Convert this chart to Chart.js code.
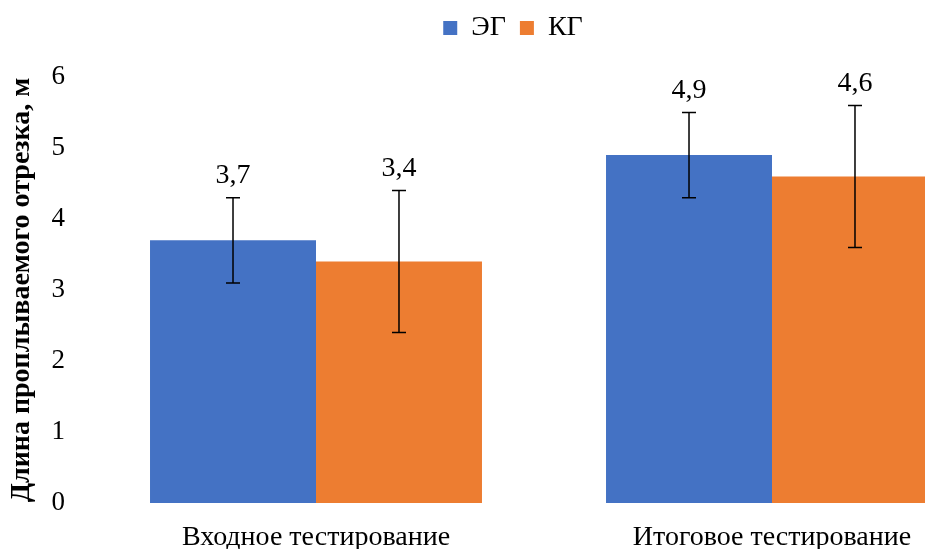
<!DOCTYPE html>
<html>
<head>
<meta charset="utf-8">
<script src="https://cdn.jsdelivr.net/npm/chart.js@4/dist/chart.umd.min.js"></script>
<style>
  html, body { margin: 0; padding: 0; background: #fff; overflow: hidden; width: 925px; height: 549px; }
  #wrap { width: 1026px; height: 549px; }
</style>
</head>
<body>
<div id="wrap"><canvas id="c" width="1026" height="549"></canvas></div>
<script>
const categories = ['Входное тестирование', 'Итоговое тестирование'];
const seriesNames = ['ЭГ', 'КГ'];
const egValues = [3.7, 4.9];
const kgValues = [3.4, 4.6];
const egErrors = [0.6, 0.6];
const kgErrors = [1.0, 1.0];
const yTicks = [0, 1, 2, 3, 4, 5, 6];

const FONT = "'Liberation Serif', 'Times New Roman', serif";

const errorBarPlugin = {
  id: 'errorBars',
  afterDatasetsDraw(chart) {
    const ctx = chart.ctx;
    const yScale = chart.scales.y;
    chart.data.datasets.forEach((ds, di) => {
      const meta = chart.getDatasetMeta(di);
      meta.data.forEach((bar, i) => {
        const v = ds.data[i];
        const e = ds.errors[i];
        const yTop = yScale.getPixelForValue(v + e);
        const yBot = yScale.getPixelForValue(v - e);
        const x = bar.x;
        ctx.save();
        ctx.strokeStyle = '#000';
        ctx.lineWidth = 1.5;
        ctx.beginPath();
        ctx.moveTo(x, yTop); ctx.lineTo(x, yBot);
        ctx.moveTo(x - 7, yTop); ctx.lineTo(x + 7, yTop);
        ctx.moveTo(x - 7, yBot); ctx.lineTo(x + 7, yBot);
        ctx.stroke();
        ctx.fillStyle = '#000';
        ctx.font = "28px " + FONT;
        ctx.textAlign = 'center';
        ctx.textBaseline = 'middle';
        ctx.fillText(v.toFixed(1).replace('.', ','), x, yTop - 22);
        ctx.restore();
      });
    });
  }
};

const legendLayoutPlugin = {
  id: 'legendLayout',
  beforeLayout(chart) {
    const lg = chart.legend;
    if (lg && !lg._wrapped) {
      const orig = lg.fit;
      lg.fit = function () { orig.call(this); this.height = 77; };
      lg._wrapped = true;
    }
  },
  afterLayout(chart) {
    const lg = chart.legend;
    if (lg) { lg.left += 13; lg.right += 13; }
  }
};

new Chart(document.getElementById('c'), {
  type: 'bar',
  data: {
    labels: categories,
    datasets: [
      { label: seriesNames[0], data: egValues, errors: egErrors, backgroundColor: '#4472C4', borderWidth: 0 },
      { label: seriesNames[1], data: kgValues, errors: kgErrors, backgroundColor: '#ED7D31', borderWidth: 0 }
    ]
  },
  options: {
    responsive: false,
    animation: false,
    layout: { padding: { left: 0, right: 26, top: 0, bottom: 0 } },
    datasets: { bar: { categoryPercentage: 0.728, barPercentage: 1.0 } },
    plugins: {
      legend: {
        position: 'top',
        labels: {
          boxWidth: 14, boxHeight: 14, padding: 14,
          color: '#000',
          font: { family: FONT, size: 28 }
        }
      },
      tooltip: { enabled: false }
    },
    scales: {
      x: {
        grid: { display: false, drawTicks: false },
        border: { display: false },
        ticks: { color: '#000', padding: 18, font: { family: FONT, size: 28 } },
        afterFit(scale) { scale.height = 46; }
      },
      y: {
        min: 0, max: 6,
        grid: { display: false, drawTicks: false },
        border: { display: false },
        afterBuildTicks(scale) { scale.ticks = yTicks.map(v => ({ value: v })); },
        ticks: { color: '#000', padding: 23, font: { family: FONT, size: 27 } },
        title: {
          display: true,
          text: 'Длина проплываемого отрезка, м',
          color: '#000',
          padding: { top: 5, bottom: 0 },
          font: { family: FONT, size: 28, weight: 'bold' }
        },
        afterFit(scale) { scale.width = 88; }
      }
    }
  },
  plugins: [errorBarPlugin, legendLayoutPlugin]
});
</script>
</body>
</html>
